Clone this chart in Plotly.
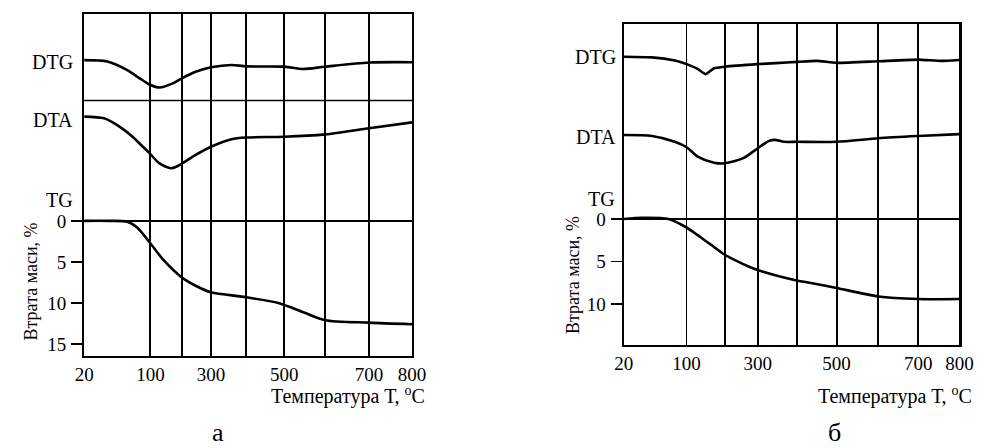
import numpy as np
import plotly.graph_objects as go

# ---------------- data ----------------
# Non-uniform temperature scale of the original figure (tick temperatures)
tick_temps = [20, 100, 200, 300, 400, 500, 600, 700, 800]
tick_labels = ["20", "100", "", "300", "", "500", "", "700", "800"]
# relative positions of these temperatures along each panel's x axis
scale_a = [0, 0.202, 0.298, 0.387, 0.494, 0.610, 0.735, 0.869, 1.0]
scale_b = [0, 0.187, 0.301, 0.399, 0.516, 0.634, 0.758, 0.877, 1.0]

# Panel а
dtg_a_T = [20, 48, 72, 87, 99, 129, 171, 200, 247, 300, 358, 400, 500, 545, 600, 700, 800]
dtg_a_v = [86.5, 86.1, 83.6, 81.2, 79.4, 78.5, 79.7, 81.2, 83.1, 84.4, 85.1, 84.7, 84.6, 83.9, 84.6, 85.8, 85.9]
dta_a_T = [20, 44, 60, 76, 91, 99, 129, 166, 192, 247, 300, 358, 400, 500, 600, 700, 800]
dta_a_v = [70.0, 69.5, 67.5, 64.6, 61.2, 59.3, 56.3, 54.9, 55.8, 58.8, 61.2, 63.4, 63.9, 64.1, 64.8, 66.6, 68.3]
tg_a_T = [20, 50, 72, 84, 99, 140, 200, 247, 300, 400, 485, 550, 600, 700, 800]
tg_a_v = [0, 0, 0.1, 0.8, 2.6, 4.7, 6.9, 7.9, 8.7, 9.3, 10.0, 11.2, 12.1, 12.4, 12.6]

# Panel б
dtg_b_T = [20, 56, 85, 100, 129, 150, 172, 200, 300, 346, 400, 450, 500, 600, 700, 755, 800]
dtg_b_v = [89.8, 89.6, 88.6, 87.5, 86.0, 84.4, 86.2, 86.7, 87.5, 87.8, 88.2, 88.5, 87.9, 88.4, 88.9, 88.5, 88.8]
dta_b_T = [20, 56, 85, 100, 129, 172, 200, 256, 300, 329, 344, 367, 400, 500, 600, 700, 800]
dta_b_v = [65.4, 65.1, 63.3, 61.6, 58.7, 56.8, 56.6, 58.2, 61.3, 63.6, 63.9, 63.3, 63.3, 63.3, 64.4, 65.1, 65.7]
tg_b_T = [20, 43, 77, 100, 129, 163, 200, 256, 300, 396, 445, 500, 600, 700, 800]
tg_b_v = [0, -0.15, 0, 1.0, 1.9, 3.0, 4.2, 5.3, 6.0, 7.2, 7.6, 8.1, 9.1, 9.4, 9.4]

tg_ticks_a = [0, 5, 10, 15]
tg_ticks_b = [0, 5, 10]

# --------------- figure ---------------
FONT = "Liberation Serif"
W, H = 993, 448


def pos(T, scale):
    return np.interp(T, tick_temps, scale)


line = dict(color="black", width=2.6, shape="spline", smoothing=0.75)
line_sharp = dict(color="black", width=2.6, shape="spline", smoothing=0.45)

fig = go.Figure()
# panel а
fig.add_trace(go.Scatter(x=pos(dtg_a_T, scale_a), y=dtg_a_v, xaxis="x", yaxis="y2", mode="lines", line=line))
fig.add_trace(go.Scatter(x=pos(dta_a_T, scale_a), y=dta_a_v, xaxis="x", yaxis="y2", mode="lines", line=line))
fig.add_trace(go.Scatter(x=pos(tg_a_T, scale_a), y=tg_a_v, xaxis="x", yaxis="y", mode="lines", line=line))
# panel б
fig.add_trace(go.Scatter(x=pos(dtg_b_T, scale_b), y=dtg_b_v, xaxis="x2", yaxis="y4", mode="lines", line=line_sharp))
fig.add_trace(go.Scatter(x=pos(dta_b_T, scale_b), y=dta_b_v, xaxis="x2", yaxis="y4", mode="lines", line=line))
fig.add_trace(go.Scatter(x=pos(tg_b_T, scale_b), y=tg_b_v, xaxis="x2", yaxis="y3", mode="lines", line=line))

dom_a_x = [76 / W, 412 / W]
dom_a_y = [1 - 356 / H, 1 - 14 / H]
dom_b_x = [629 / W, 973 / W]
dom_b_y = [1 - 345 / H, 1 - 24 / H]

xcommon = dict(range=[0, 1], showgrid=True, gridcolor="black", gridwidth=1.8,
               showline=True, mirror=True, linecolor="black", linewidth=2.2,
               ticks="", zeroline=False, ticklabelstandoff=0,
               tickfont=dict(family=FONT, size=19, color="black"), fixedrange=True)
ycommon = dict(showgrid=False, showline=True, mirror=True, linecolor="black", linewidth=2.2,
               ticks="outside", ticklen=11, tickwidth=1.5, tickcolor="black",
               zeroline=True, zerolinecolor="black", zerolinewidth=1.6,
               tickfont=dict(family=FONT, size=19, color="black"), ticklabelstandoff=1,
               fixedrange=True)

fig.update_layout(
    width=W, height=H, margin=dict(l=0, r=0, t=0, b=0),
    paper_bgcolor="white", plot_bgcolor="white", showlegend=False,
    xaxis=dict(domain=dom_a_x, anchor="y", tickvals=scale_a, ticktext=tick_labels, **xcommon),
    yaxis=dict(domain=dom_a_y, anchor="x", range=[16.46, -25.2], tickvals=tg_ticks_a, **ycommon),
    yaxis2=dict(overlaying="y", anchor="x", range=[0, 100], visible=False, fixedrange=True),
    xaxis2=dict(domain=dom_b_x, anchor="y3", tickvals=scale_b, ticktext=tick_labels, **xcommon),
    yaxis3=dict(domain=dom_b_y, anchor="x2", range=[14.8, -22.9], tickvals=tg_ticks_b, **ycommon),
    yaxis4=dict(overlaying="y3", anchor="x2", range=[0, 100], visible=False, fixedrange=True),
)

# separator between DTG and DTA in panel а
fig.add_shape(type="line", xref="x domain", x0=0, x1=1, yref="y2", y0=74.7, y1=74.7,
              line=dict(color="black", width=1.4))

lab_font = dict(family=FONT, size=20, color="black")
labels = [
    ("DTG", "x", "y2", 86.0, -9), ("DTA", "x", "y2", 69.0, -9), ("TG", "x", "y", -2.5, -9),
    ("DTG", "x2", "y4", 89.7, -6), ("DTA", "x2", "y4", 64.8, -6), ("TG", "x2", "y3", -2.3, -7),
]
for txt, xr, yr, yv, xs in labels:
    fig.add_annotation(text=txt, xref=xr + " domain", x=0, yref=yr, y=yv, xanchor="right",
                       yanchor="middle", xshift=xs, showarrow=False, font=lab_font)

title_font = dict(family=FONT, size=20, color="black")
for xr in ["x", "x2"]:
    fig.add_annotation(text="Температура Т, <sup>o</sup>C", xref=xr + " domain", x=1, xshift=15,
                       xanchor="right", yref="paper", y=1 - 395 / H, yanchor="middle",
                       showarrow=False, font=title_font)

ytitle_font = dict(family=FONT, size=18, color="black")
fig.add_annotation(text="Втрата маси, %", xref="paper", x=22 / W, yref="paper", y=1 - 281 / H,
                   textangle=-90, showarrow=False, font=ytitle_font, xanchor="center", yanchor="middle")
fig.add_annotation(text="Втрата маси, %", xref="paper", x=577 / W, yref="paper", y=1 - 275 / H,
                   textangle=-90, showarrow=False, font=ytitle_font, xanchor="center", yanchor="middle")

panel_font = dict(family=FONT, size=26, color="black")
fig.add_annotation(text="а", xref="paper", x=213 / W, yref="paper", y=1 - 432 / H,
                   showarrow=False, font=panel_font, xanchor="center", yanchor="middle")
fig.add_annotation(text="б", xref="paper", x=845 / W, yref="paper", y=1 - 432 / H,
                   showarrow=False, font=panel_font, xanchor="center", yanchor="middle")

fig.write_html("out.html", config={"displayModeBar": False, "staticPlot": True},
               post_script="document.body.style.margin='0';")
